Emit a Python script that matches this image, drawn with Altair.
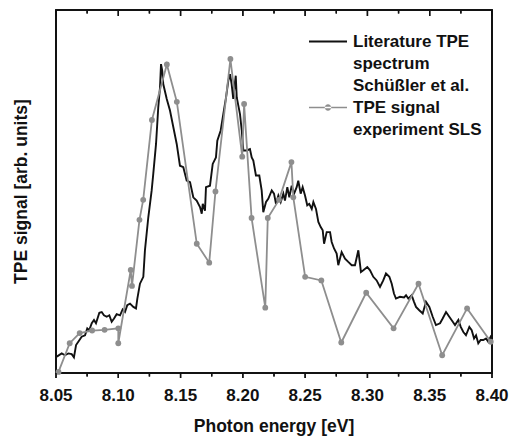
import altair as alt
import pandas as pd

# Literature TPE spectrum (Schüßler et al.)
lit_energy = [8.0506, 8.0546, 8.0572, 8.0599, 8.0626, 8.0644, 8.0661, 8.0679, 8.0706, 8.0733,
              8.0751, 8.0767, 8.0787, 8.0805, 8.0821, 8.0848, 8.0867, 8.0885, 8.0907, 8.0928,
              8.0947, 8.0966, 8.0987, 8.1014, 8.1035, 8.1054, 8.1072, 8.1094, 8.1121, 8.1142,
              8.1153, 8.1174, 8.1201, 8.1214, 8.1241, 8.1268, 8.1281, 8.1303, 8.1321, 8.1335,
              8.1343, 8.1353, 8.1361, 8.1389, 8.1415, 8.1442, 8.1469, 8.1495, 8.1522, 8.1549,
              8.1576, 8.1602, 8.1629, 8.1656, 8.1670, 8.1678, 8.1696, 8.1704, 8.1736, 8.1758,
              8.1784, 8.1795, 8.1822, 8.1843, 8.1865, 8.1883, 8.1897, 8.1910, 8.1923, 8.1943,
              8.1951, 8.1977, 8.1991, 8.2004, 8.2031, 8.2057, 8.2071, 8.2084, 8.2105, 8.2132,
              8.2151, 8.2164, 8.2186, 8.2204, 8.2232, 8.2250, 8.2266, 8.2285, 8.2304, 8.2325,
              8.2338, 8.2357, 8.2373, 8.2392, 8.2411, 8.2432, 8.2445, 8.2464, 8.2480, 8.2499,
              8.2517, 8.2533, 8.2553, 8.2566, 8.2587, 8.2606, 8.2625, 8.2641, 8.2652, 8.2673,
              8.2700, 8.2713, 8.2732, 8.2753, 8.2766, 8.2793, 8.2820, 8.2846, 8.2874, 8.2900,
              8.2927, 8.2948, 8.2967, 8.2999, 8.3021, 8.3047, 8.3074, 8.3101, 8.3127, 8.3149,
              8.3176, 8.3195, 8.3213, 8.3229, 8.3261, 8.3294, 8.3310, 8.3328, 8.3355, 8.3374,
              8.3390, 8.3416, 8.3444, 8.3470, 8.3497, 8.3524, 8.3550, 8.3583, 8.3604, 8.3631,
              8.3657, 8.3685, 8.3703, 8.3730, 8.3749, 8.3770, 8.3791, 8.3818, 8.3837, 8.3856,
              8.3872, 8.3890, 8.3909, 8.3930, 8.3952, 8.3970, 8.3990, 8.4000]
lit_signal = [4.5, 5.4, 4.9, 5.4, 5.2, 4.3, 7.7, 8.6, 10.0, 10.4,
              12.3, 11.8, 13.7, 14.6, 13.7, 16.6, 16.8, 15.9, 15.5, 15.9,
              14.1, 15.0, 16.2, 15.9, 17.5, 16.8, 18.7, 19.1, 18.2, 17.8,
              20.5, 24.6, 26.5, 33.8, 42.9, 50.3, 54.9, 63.1, 73.2, 78.7,
              85.1, 83.2, 79.6, 75.5, 72.3, 67.7, 63.1, 57.1, 56.7, 53.0,
              52.6, 48.4, 47.5, 45.7, 43.9, 46.6, 44.7, 51.2, 51.6, 57.6,
              59.4, 64.0, 66.8, 71.3, 75.9, 80.5, 82.3, 79.6, 75.5, 81.9,
              75.9, 71.3, 66.8, 61.3, 61.3, 61.7, 59.4, 58.5, 54.4, 54.4,
              50.3, 44.3, 47.1, 48.0, 50.3, 49.4, 46.6, 48.9, 47.1, 49.4,
              47.5, 51.2, 48.4, 51.6, 49.4, 51.2, 53.0, 49.4, 51.2, 48.9,
              46.2, 46.6, 45.2, 47.1, 45.2, 41.6, 40.2, 39.3, 35.6, 38.8,
              38.8, 36.1, 34.3, 32.9, 29.7, 33.3, 31.5, 30.6, 29.7, 29.7,
              33.8, 27.8, 28.3, 29.2, 28.3, 26.5, 25.5, 23.7, 25.5, 27.4,
              26.5, 24.6, 21.9, 20.5, 21.0, 20.8, 21.4, 20.5, 21.4, 19.6,
              18.2, 17.3, 16.4, 19.6, 18.2, 15.5, 13.2, 13.7, 15.0, 16.8,
              15.5, 14.1, 13.2, 14.6, 12.7, 11.3, 10.4, 12.7, 11.8, 9.5,
              10.4, 8.2, 9.1, 9.1, 9.5, 8.6, 10.0, 9.5]

# TPE signal experiment SLS (in measurement order)
exp_energy = [8.052, 8.061, 8.069, 8.079, 8.089, 8.100, 8.100, 8.110, 8.111, 8.117,
              8.120, 8.127, 8.139, 8.147, 8.163, 8.173, 8.178, 8.190, 8.1995, 8.201,
              8.207, 8.218, 8.220, 8.229, 8.239, 8.2405, 8.250, 8.263, 8.279, 8.299,
              8.321, 8.341, 8.360, 8.380, 8.399]
exp_signal = [0.3, 8.2, 11.0, 11.7, 11.9, 12.3, 8.2, 28.4, 24.0, 42.2,
              47.7, 69.7, 85.0, 74.7, 35.6, 30.4, 50.0, 86.5, 59.6, 74.1,
              42.7, 18.0, 42.7, 47.7, 58.1, 48.4, 26.5, 25.5, 8.4, 22.1,
              12.3, 24.6, 4.9, 17.8, 8.6]

major_ticks = [8.05, 8.10, 8.15, 8.20, 8.25, 8.30, 8.35, 8.40]
minor_ticks = [8.075, 8.125, 8.175, 8.225, 8.275, 8.325, 8.375]

x_title = ["Photon energy [eV]"]
y_title = ["TPE signal [arb. units]"]
legend_labels = ["Literature TPE", "spectrum", "Schüßler et al.",
                 "TPE signal", "experiment SLS"]

FONT = "Liberation Sans"
GRAY = "#8e8e8e"
BLACK = "#111111"
W, H = 436, 363
X_DOMAIN = [8.05, 8.40]
Y_DOMAIN = [0, 100]
PX = H / (Y_DOMAIN[1] - Y_DOMAIN[0])  # pixels per signal unit

lit_df = pd.DataFrame({"E": lit_energy, "S": lit_signal})
exp_df = pd.DataFrame({"E": exp_energy, "S": exp_signal, "i": list(range(len(exp_energy)))})
major_df = pd.DataFrame({"E": major_ticks})
minor_df = pd.DataFrame({"E": minor_ticks})
xt_df = pd.DataFrame({"t": x_title})
yt_df = pd.DataFrame({"t": y_title})
leg_df = pd.DataFrame({"label": legend_labels})

# frame along the scale domains, and tick segments built from the tick arrays
frame_df = pd.DataFrame({
    "E": [X_DOMAIN[0], X_DOMAIN[1], X_DOMAIN[1], X_DOMAIN[0], X_DOMAIN[0]],
    "S": [Y_DOMAIN[0], Y_DOMAIN[0], Y_DOMAIN[1], Y_DOMAIN[1], Y_DOMAIN[0]],
    "o": [0, 1, 2, 3, 4],
})
seg_rows = []
for k, (vals, base, length) in enumerate([
    (major_ticks, Y_DOMAIN[0], -5 / PX), (minor_ticks, Y_DOMAIN[0], -3.5 / PX),
    (major_ticks, Y_DOMAIN[1], -6 / PX), (minor_ticks, Y_DOMAIN[1], -3.5 / PX),
]):
    for j, v in enumerate(vals):
        seg_rows.append({"E": v, "S": base, "o": 0, "k": f"{k}-{j}"})
        seg_rows.append({"E": v, "S": base + length, "o": 1, "k": f"{k}-{j}"})
seg_df = pd.DataFrame(seg_rows)

xs = alt.Scale(domain=X_DOMAIN, nice=False, zero=False)
ys = alt.Scale(domain=Y_DOMAIN, nice=False, zero=False)

frame = alt.Chart(alt.Data(values=[{"f": 1}])).mark_rect(
    fill="transparent", stroke=BLACK, strokeWidth=1.6
).encode(
    x=alt.value(0), x2=alt.value("width"), y=alt.value(0), y2=alt.value("height")
)
frame_line = alt.Chart(frame_df).mark_line(color=BLACK, strokeWidth=1.6).encode(
    x=alt.X("E:Q", scale=xs, axis=None),
    y=alt.Y("S:Q", scale=ys, axis=None),
    order="o:Q",
)
tick_lines = alt.Chart(seg_df).mark_line(color=BLACK, strokeWidth=1.4).encode(
    x=alt.X("E:Q", scale=xs, axis=None),
    y=alt.Y("S:Q", scale=ys, axis=None),
    detail="k:N",
    order="o:Q",
)

lit = alt.Chart(lit_df).mark_line(color=BLACK, strokeWidth=1.9).encode(
    x=alt.X("E:Q", scale=xs, axis=None),
    y=alt.Y("S:Q", scale=ys, axis=None),
)
exp_line = alt.Chart(exp_df).mark_line(color=GRAY, strokeWidth=1.8).encode(
    x=alt.X("E:Q", scale=xs, axis=None),
    y=alt.Y("S:Q", scale=ys, axis=None),
    order="i:Q",
)
exp_pts = alt.Chart(exp_df).mark_circle(color=GRAY, size=34, opacity=1).encode(
    x=alt.X("E:Q", scale=xs, axis=None),
    y=alt.Y("S:Q", scale=ys, axis=None),
)


def tick_layer(df, size, at_top):
    return alt.Chart(df).mark_tick(
        orient="vertical", color=BLACK, thickness=1.4, size=size, opacity=1
    ).encode(
        x=alt.X("E:Q", scale=xs, axis=None),
        y=alt.value(0 if at_top else "height"),
        yOffset=alt.value(size / 2),
    )


tick_labels = alt.Chart(major_df).mark_text(
    font=FONT, fontSize=17, fontWeight="bold", color=BLACK,
    align="center", baseline="middle"
).encode(
    x=alt.X("E:Q", scale=xs, axis=None),
    y=alt.value("height"), yOffset=alt.value(22.5),
    text=alt.Text("E:Q", format=".2f"),
)
x_title_layer = alt.Chart(xt_df).mark_text(
    font=FONT, fontSize=17.5, fontWeight="bold", color=BLACK,
    align="center", baseline="middle"
).encode(
    x=alt.value(W / 2), y=alt.value("height"), yOffset=alt.value(54), text="t:N",
)
y_title_layer = alt.Chart(yt_df).mark_text(
    font=FONT, fontSize=17.5, fontWeight="bold", color=BLACK,
    align="center", baseline="middle", angle=270
).encode(
    x=alt.value(-34), y=alt.value(H / 2), text="t:N",
)

line_path = "M-1,-0.05H1V0.05H-1Z"
dot_path = ("M-1,-0.045H1V0.045H-1Z"
            "M-0.17,0A0.17,0.17 0 1,0 0.17,0A0.17,0.17 0 1,0 -0.17,0Z")
legend = alt.Legend(
    orient="none", legendX=253, legendY=22, title=None, padding=0,
    symbolSize=1444, symbolStrokeWidth=0, symbolOpacity=1,
    labelFont=FONT, labelFontSize=17, labelFontWeight="bold",
    labelColor=BLACK, labelOffset=6, labelBaseline="middle", labelLimit=300,
    clipHeight=19, rowPadding=3,
)
leg_layer = alt.Chart(leg_df).transform_filter("false").mark_point(
    filled=True, size=1444, opacity=1
).encode(
    color=alt.Color("label:N", scale=alt.Scale(
        domain=legend_labels,
        range=[BLACK, "rgba(0,0,0,0)", "rgba(0,0,0,0)", GRAY, "rgba(0,0,0,0)"]),
        legend=legend),
    shape=alt.Shape("label:N", scale=alt.Scale(
        domain=legend_labels,
        range=[line_path, line_path, line_path, dot_path, line_path]),
        legend=legend),
)

chart = alt.layer(
    frame, frame_line, tick_lines, lit, exp_line, exp_pts,
    tick_layer(major_df, 5, False), tick_layer(minor_df, 3.5, False),
    tick_layer(major_df, 6, True), tick_layer(minor_df, 3.5, True),
    tick_labels, x_title_layer, y_title_layer,
    leg_layer,
).properties(
    width=W, height=H, autosize="none",
    padding={"left": 56, "top": 10, "right": 20, "bottom": 65},
    background="white",
).configure_view(stroke=BLACK, strokeWidth=1.6)

chart.save("out.html", embed_options={"renderer": "svg", "actions": False})
